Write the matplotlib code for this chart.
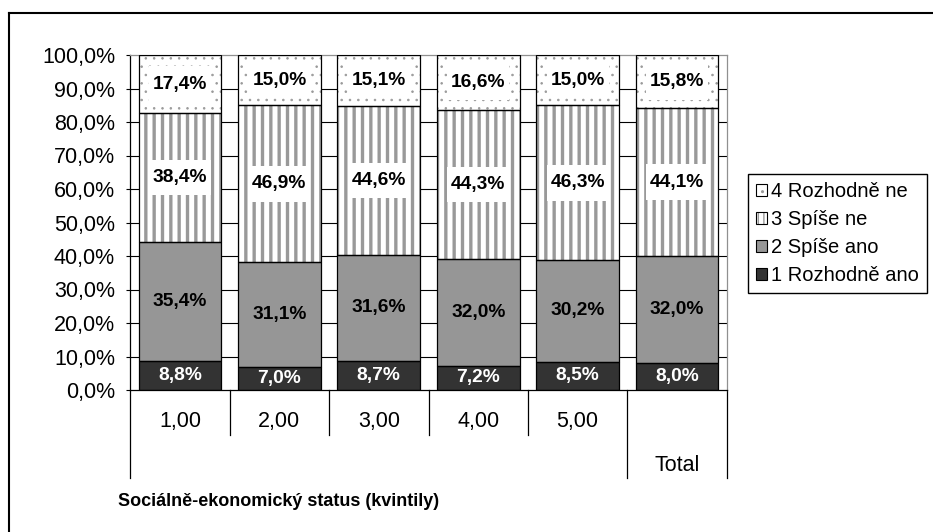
import matplotlib
matplotlib.use('Agg')
import matplotlib.pyplot as plt
from matplotlib.patches import Patch
from matplotlib.path import Path
from matplotlib.legend_handler import HandlerTuple
from matplotlib.lines import Line2D

plt.rcParams['font.family'] = ['Liberation Sans', 'DejaVu Sans']

# ---- data ----
categories = ['1,00', '2,00', '3,00', '4,00', '5,00', 'Total']
rozhodne_ano = [8.8, 7.0, 8.7, 7.2, 8.5, 8.0]
spise_ano = [35.4, 31.1, 31.6, 32.0, 30.2, 32.0]
spise_ne = [38.4, 46.9, 44.6, 44.3, 46.3, 44.1]
rozhodne_ne = [17.4, 15.0, 15.1, 16.6, 15.0, 15.8]
series_names = ['1 Rozhodně ano', '2 Spíše ano', '3 Spíše ne', '4 Rozhodně ne']
y_ticks = [0, 10, 20, 30, 40, 50, 60, 70, 80, 90, 100]
y_tick_labels = ['0,0%', '10,0%', '20,0%', '30,0%', '40,0%', '50,0%',
                 '60,0%', '70,0%', '80,0%', '90,0%', '100,0%']
x_title = 'Sociálně-ekonomický status (kvintily)'

# ---- styles ----
series = [rozhodne_ano, spise_ano, spise_ne, rozhodne_ne]
faces = ['#333333', '#969696', 'white', 'white']
hatches = [None, None, '||', '..']
legend_hatches = [None, None, '|||', '..']
hatch_cols = ['#333333', '#969696', '#999999', '#9a9a9a']
hatch_lws = [1.0, 1.0, 2.4, 0.6]
label_cols = ['white', 'black', 'black', 'black']
label_box = [False, False, True, True]
FS = 15.5      # tick / category text
FSL = 14.5     # legend text
FSB = 13.8     # bold data labels
FSX = 13.0     # axis title


def label_box_style(x0, y0, width, height, mutation_size):
    px = 0.2 * mutation_size
    py = 0.48 * mutation_size
    x0, y0 = x0 - px, y0 - py
    x1, y1 = x0 + width + 2 * px, y0 + height + 2 * py
    return Path([(x0, y0), (x1, y0), (x1, y1), (x0, y1), (x0, y0)],
                closed=True)


W, H = 933, 532
fig = plt.figure(figsize=(W / 100, H / 100), dpi=100)
ax = fig.add_axes([130.3 / W, 1 - 390 / H, (726.7 - 130.3) / W, 335 / H])
ax.set_xlim(-0.5, len(categories) - 0.5)
ax.set_ylim(0, 100)

# gridlines
for yv in y_ticks[1:-1]:
    ax.axhline(yv, color='black', lw=0.8, zorder=0)

x = list(range(len(categories)))
bw = 0.835
bottom = [0.0] * len(categories)
for i, vals in enumerate(series):
    plt.rcParams['hatch.linewidth'] = hatch_lws[i]
    bars = ax.bar(x, vals, bw, bottom=bottom, color=faces[i],
                  edgecolor=hatch_cols[i], linewidth=0, hatch=hatches[i], zorder=2)
    for b in bars:
        try:
            b.set_hatch_linewidth(hatch_lws[i])
        except AttributeError:
            pass
    ax.bar(x, vals, bw, bottom=bottom, fill=False, edgecolor='black',
           linewidth=0.9, zorder=3)
    for xi, v, b0 in zip(x, vals, bottom):
        txt = f'{v:.1f}%'.replace('.', ',')
        kw = {}
        if label_box[i]:
            kw['bbox'] = dict(boxstyle=label_box_style, facecolor='white',
                              edgecolor='none')
        ax.text(xi, b0 + v / 2, txt, ha='center', va='center', fontsize=FSB,
                fontweight='bold', color=label_cols[i], zorder=4, **kw)
    bottom = [b0 + v for b0, v in zip(bottom, vals)]

# axes styling
ax.set_yticks(y_ticks, y_tick_labels)
ax.set_xticks([])
ax.tick_params(axis='y', direction='out', length=3, width=0.8, pad=8,
               labelsize=FS)
for s in ['top', 'right']:
    ax.spines[s].set_color('#909090')
    ax.spines[s].set_linewidth(0.9)
for s in ['left', 'bottom']:
    ax.spines[s].set_color('black')
    ax.spines[s].set_linewidth(0.9)

# category axis table
tr = ax.get_xaxis_transform()
n = len(categories)
for k in range(n + 1):
    xs = k - 0.5
    if k in (0, n - 1, n):
        y_end = -0.263
    else:
        y_end = -0.134
    ax.plot([xs, xs], [0, y_end], color='black', lw=0.9, transform=tr,
            clip_on=False)
for xi, c in zip(x, categories):
    yl = -0.224 if c == 'Total' else -0.0946
    ax.text(xi, yl, c, transform=tr, ha='center', va='center', fontsize=FS)

fig.text(279 / W, 1 - 501.7 / H, x_title, ha='center', va='center',
         fontsize=FSX, fontweight='bold')

# legend
handles = []
for i in [3, 2, 1, 0]:
    plt.rcParams['hatch.linewidth'] = min(hatch_lws[i], 1.2)
    p1 = Patch(facecolor=faces[i], edgecolor=hatch_cols[i], linewidth=0,
               hatch=legend_hatches[i])
    try:
        p1.set_hatch_linewidth(min(hatch_lws[i], 1.2))
    except AttributeError:
        pass
    p2 = Patch(fill=False, edgecolor='black', linewidth=0.8)
    handles.append((p1, p2))
labels = [series_names[i] for i in [3, 2, 1, 0]]
leg = fig.legend(handles, labels,
                 handler_map={tuple: HandlerTuple(ndivide=1, pad=0)},
                 loc='upper left', bbox_to_anchor=(747.7 / W, 1 - 174 / H),
                 bbox_transform=fig.transFigure, borderaxespad=0,
                 frameon=True, fancybox=False, edgecolor='black', framealpha=1,
                 fontsize=FSL, handlelength=0.55, handleheight=0.55,
                 handletextpad=0.2, labelspacing=0.45, borderpad=0.4)
leg.get_frame().set_linewidth(1.0)

# outer border (chart area)
fig.add_artist(Line2D([9 / W, 9 / W], [-0.01, 1 - 13 / H], transform=fig.transFigure,
                      color='black', lw=1.5))
fig.add_artist(Line2D([9 / W, 1.01], [1 - 13 / H, 1 - 13 / H], transform=fig.transFigure,
                      color='black', lw=1.5))

fig.savefig('out.png', dpi=100)
